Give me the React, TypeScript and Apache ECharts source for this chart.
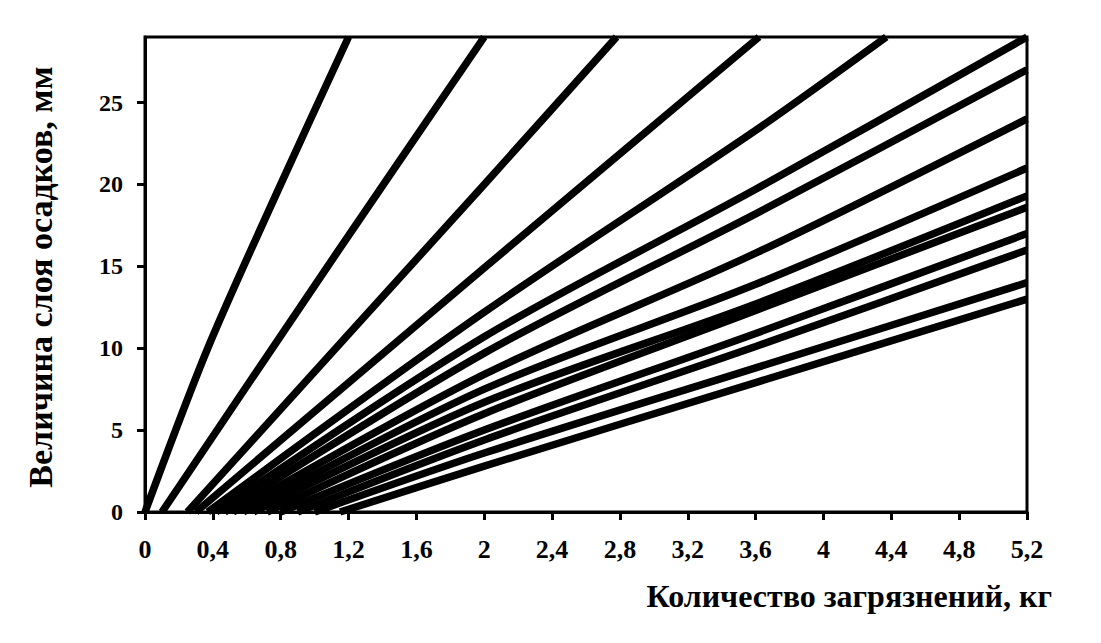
import React, { useEffect, useRef } from "react";
import * as echarts from "echarts";

// Tick labels
const xTickLabels = ["0", "0,4", "0,8", "1,2", "1,6", "2", "2,4", "2,8", "3,2", "3,6", "4", "4,4", "4,8", "5,2"];
const yTickLabels = ["0", "5", "10", "15", "20", "25"];

const xTitle = "Количество загрязнений, кг";
const yTitle = "Величина слоя осадков, мм";

// Curves: [amount of pollution (kg), sediment layer (mm)]
const curve01 = [[0, 0], [0.37, 10], [0.8, 20], [1.2, 29]];
const curve02 = [[0.1, 0], [1.09, 15.2], [2.0, 29]];
const curve03 = [[0.25, 0], [2.0, 20], [2.78, 29]];
const curve04 = [[0.3, 0], [2.0, 14.9], [3.62, 29]];
const curve05 = [[0.37, 0], [2.0, 12.2], [3.6, 23.3], [4.37, 29]];
const curve06 = [[0.42, 0], [2.0, 10.7], [3.6, 19.7], [5.2, 29]];
const curve07 = [[0.47, 0], [2.0, 9.7], [3.6, 18.2], [5.2, 27]];
const curve08 = [[0.52, 0], [2.0, 8.4], [3.6, 15.8], [5.2, 24]];
const curve09 = [[0.58, 0], [2.0, 7.5], [3.6, 13.9], [5.2, 21]];
const curve10 = [[0.64, 0], [2.0, 6.7], [3.6, 12.7], [5.2, 19.3]];
const curve11 = [[0.72, 0], [2.0, 6.0], [3.6, 12.3], [5.2, 18.6]];
const curve12 = [[0.8, 0], [2.0, 5.0], [3.6, 10.9], [5.2, 17]];
const curve13 = [[0.9, 0], [2.0, 4.4], [3.6, 10.1], [5.2, 16]];
const curve14 = [[1.0, 0], [2.0, 3.6], [3.6, 8.8], [5.2, 14]];
const curve15 = [[1.15, 0], [2.0, 2.8], [3.6, 7.9], [5.2, 13]];

const curves = [
  curve01, curve02, curve03, curve04, curve05, curve06, curve07, curve08,
  curve09, curve10, curve11, curve12, curve13, curve14, curve15,
];

const FONT = '"Liberation Serif", "Times New Roman", serif';

export default function App() {
  const ref = useRef<HTMLDivElement>(null);

  useEffect(() => {
    document.body.style.margin = "0";
    const chart = echarts.init(ref.current!, null, { renderer: "svg" });
    chart.setOption({
      animation: false,
      backgroundColor: "#ffffff",
      grid: {
        left: 145,
        right: 74,
        top: 37,
        bottom: 131,
        show: true,
        borderColor: "#000",
        borderWidth: 3,
        backgroundColor: "transparent",
      },
      xAxis: {
        type: "value",
        min: 0,
        max: 5.2,
        interval: 0.4,
        axisLine: { show: true, lineStyle: { color: "#000", width: 3 } },
        axisTick: { show: true, length: 8, lineStyle: { color: "#000", width: 3 } },
        splitLine: { show: false },
        axisLabel: {
          color: "#000",
          fontFamily: FONT,
          fontWeight: "bold",
          fontSize: 26,
          margin: 24,
          formatter: (v: number) => {
            const i = Math.round(v / 0.4);
            return xTickLabels[i] ?? "";
          },
        },
      },
      yAxis: {
        type: "value",
        min: 0,
        max: 29,
        interval: 5,
        axisLine: { show: true, lineStyle: { color: "#000", width: 3 } },
        axisTick: { show: true, length: 8, lineStyle: { color: "#000", width: 3 } },
        splitLine: { show: false },
        axisLabel: {
          color: "#000",
          fontFamily: FONT,
          fontWeight: "bold",
          fontSize: 24,
          margin: 22,
          showMaxLabel: false,
          formatter: (v: number) => {
            const i = Math.round(v / 5);
            return Math.abs(v - i * 5) < 1e-6 ? yTickLabels[i] ?? "" : "";
          },
        },
      },
      series: curves.map((c, i) => ({
        name: "curve" + (i + 1),
        type: "line",
        data: c,
        showSymbol: false,
        smooth: 0.3,
        silent: true,
        lineStyle: { color: "#000", width: 7.5, cap: "butt" },
      })),
      graphic: [
        {
          type: "text",
          x: 1052,
          y: 596,
          style: {
            text: xTitle,
            align: "right",
            verticalAlign: "middle",
            textAlign: "right",
            textVerticalAlign: "middle",
            font: `bold 32px ${FONT}`,
            fill: "#000",
          },
        },
        {
          type: "text",
          x: 40,
          y: 277,
          rotation: Math.PI / 2,
          style: {
            text: yTitle,
            align: "center",
            verticalAlign: "middle",
            textAlign: "center",
            textVerticalAlign: "middle",
            font: `bold 34px ${FONT}`,
            fill: "#000",
          },
        },
      ],
    });
    return () => chart.dispose();
  }, []);

  return <div ref={ref} style={{ width: 1101, height: 643 }} />;
}
